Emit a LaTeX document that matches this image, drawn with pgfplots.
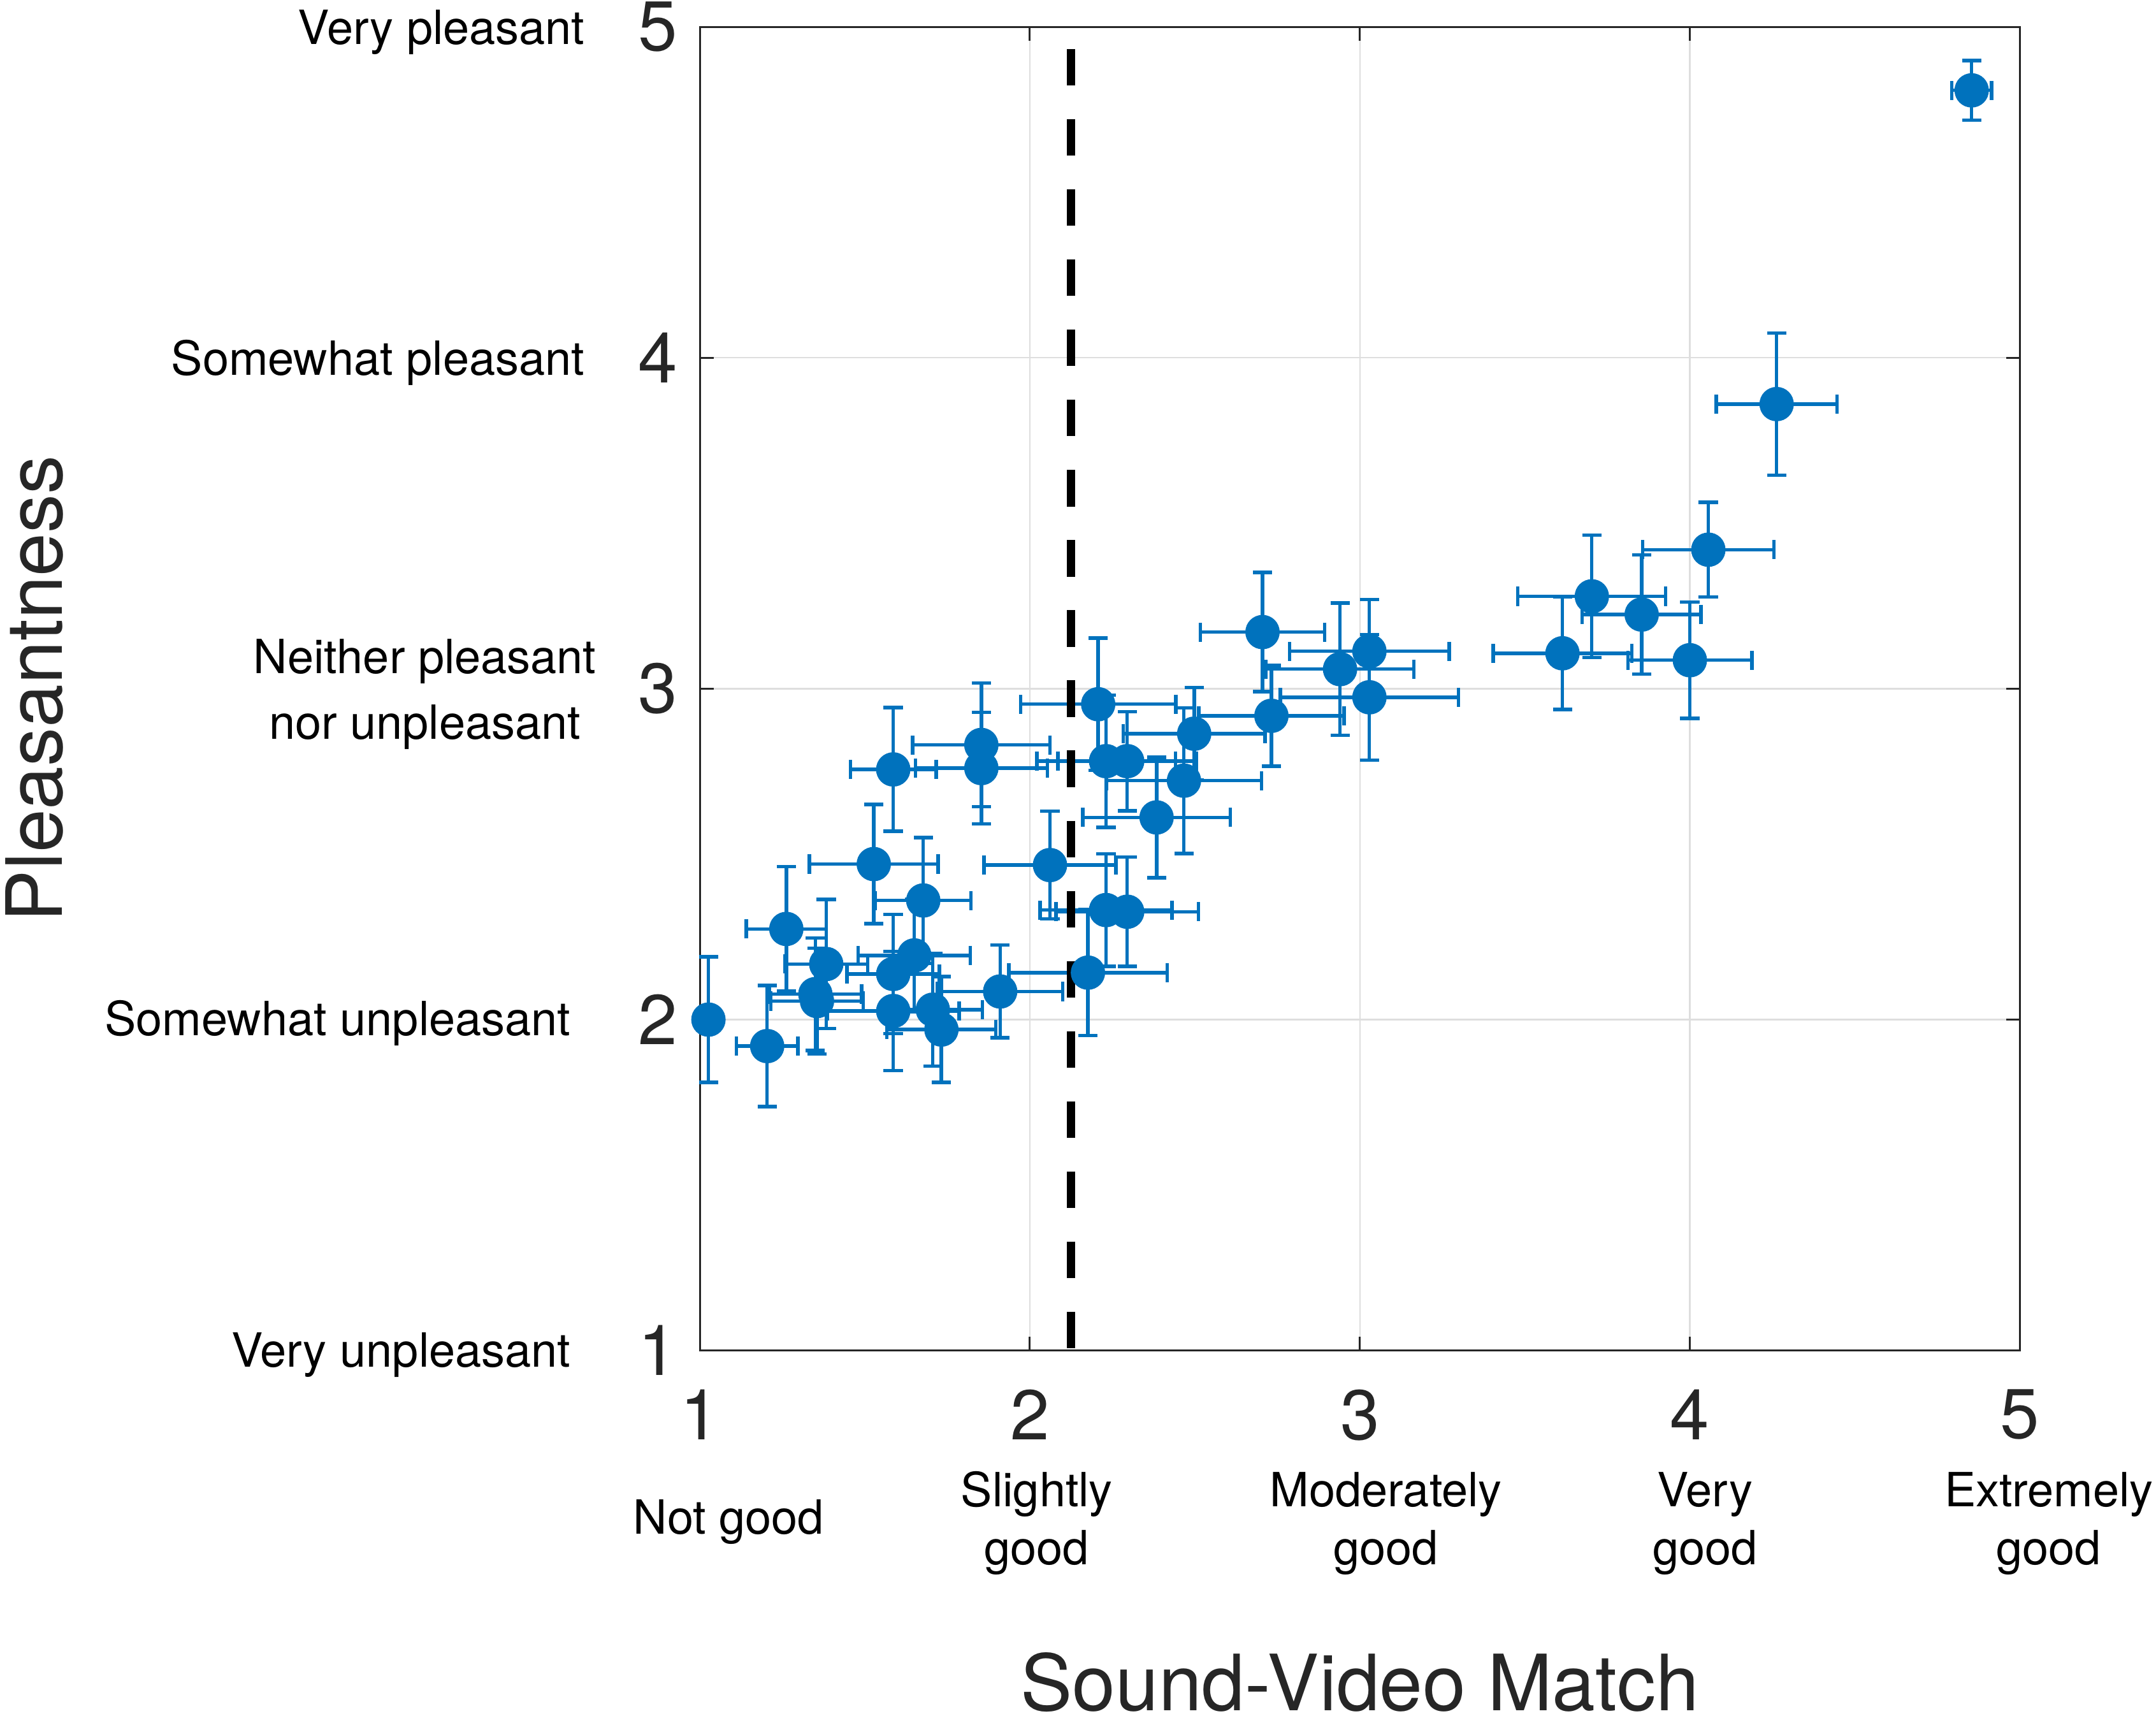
\documentclass[border=0pt]{standalone}
\usepackage{fontspec}
\setmainfont{TeX Gyre Heros}
\usepackage{pgfplots}
\usepackage{pgfplotstable}
\pgfplotsset{compat=1.18}
\definecolor{mblue}{HTML}{0072BD}
\definecolor{axgray}{HTML}{262626}
\definecolor{gridgray}{HTML}{DEDEDE}

\pgfplotstableread{
x      y      ex     ey
1.026  2.000  0.000  0.190
1.204  1.920  0.093  0.183
1.262  2.274  0.121  0.188
1.350  2.077  0.140  0.170
1.355  2.056  0.140  0.160
1.383  2.168  0.125  0.195
1.527  2.470  0.195  0.180
1.586  2.756  0.130  0.187
1.586  2.138  0.140  0.180
1.586  2.026  0.200  0.180
1.650  2.194  0.170  0.170
1.677  2.360  0.145  0.190
1.706  2.030  0.150  0.170
1.732  1.970  0.165  0.160
1.853  2.830  0.208  0.187
1.853  2.760  0.200  0.168
1.910  2.085  0.190  0.140
2.061  2.467  0.200  0.163
2.176  2.142  0.240  0.190
2.207  2.953  0.235  0.200
2.231  2.781  0.210  0.200
2.231  2.331  0.200  0.170
2.295  2.781  0.210  0.150
2.295  2.326  0.216  0.165
2.384  2.611  0.224  0.182
2.467  2.722  0.235  0.220
2.498  2.864  0.215  0.140
2.705  3.171  0.188  0.180
2.732  2.918  0.220  0.152
2.940  3.059  0.224  0.200
3.029  3.113  0.242  0.157
3.029  2.974  0.270  0.190
3.614  3.107  0.210  0.170
3.703  3.279  0.224  0.185
3.854  3.224  0.180  0.180
4.000  3.086  0.188  0.176
4.056  3.420  0.199  0.143
4.263  3.860  0.183  0.215
4.854  4.808  0.060  0.090
}\pts

\begin{document}
\begin{tikzpicture}
\useasboundingbox (-203.6pt,-108.3pt) rectangle (423.6pt,392.8pt);
\begin{axis}[
  at={(0,0)}, anchor=south west,
  width=384pt, height=385pt, scale only axis,
  xmin=1, xmax=5, ymin=1, ymax=5,
  xtick={1,2,3,4,5}, ytick={1,2,3,4,5},
  xticklabels={1,2,3,4,5}, yticklabels={1,2,3,4,5},
  grid=major,
  major grid style={color=gridgray, line width=0.45pt},
  axis line style={color=axgray, line width=0.55pt},
  tick style={color=axgray, line width=0.55pt},
  tick align=inside, major tick length=4pt,
  ticklabel style={font=\fontsize{20.5}{20.5}\selectfont, text=axgray, inner sep=0pt},
  xticklabel style={anchor=north, yshift=-11.2pt},
  yticklabel style={anchor=east, xshift=-6.3pt},
  clip=false,
]
\addplot[only marks, mark=*, color=mblue, mark size=4.8pt,
  mark options={fill=mblue, draw=mblue},
  error bars/.cd,
    x dir=both, x explicit, y dir=both, y explicit,
    error bar style={line width=1pt, color=mblue},
    error mark options={rotate=90, color=mblue, mark size=2.8pt, line width=1pt},
] table[x=x, y=y, x error=ex, y error=ey] {\pts};

\addplot[black, line width=2.4pt, dash pattern=on 10.6pt off 9.8pt, dash phase=13.9pt]
  coordinates {(2.125,5) (2.125,1)};

% y category labels
\begin{scope}[every node/.style={font=\fontsize{13.7}{13.7}\selectfont, text=black, inner sep=0pt}]
\node[anchor=base east] at (axis cs:1,5) [xshift=-33.3pt, yshift=-5pt] {Very pleasant};
\node[anchor=base east] at (axis cs:1,4) [xshift=-33.4pt, yshift=-5pt] {Somewhat pleasant};
\node[anchor=base] at (axis cs:1,3) [xshift=-80pt, yshift=4.4pt] {Neither pleasant};
\node[anchor=base] at (axis cs:1,3) [xshift=-80pt, yshift=-14.6pt] {nor unpleasant};
\node[anchor=base east] at (axis cs:1,2) [xshift=-37.4pt, yshift=-4.6pt] {Somewhat unpleasant};
\node[anchor=base east] at (axis cs:1,1) [xshift=-37.4pt, yshift=-4.8pt] {Very unpleasant};
% x category labels
\node[anchor=base] at (axis cs:1,1) [xshift=8.4pt, yshift=-53.4pt] {Not good};
\node[anchor=base] at (axis cs:2,1) [xshift=2pt, yshift=-45.3pt] {Slightly};
\node[anchor=base] at (axis cs:2,1) [xshift=2pt, yshift=-62.2pt] {good};
\node[anchor=base] at (axis cs:3,1) [xshift=7.6pt, yshift=-45.3pt] {Moderately};
\node[anchor=base] at (axis cs:3,1) [xshift=7.6pt, yshift=-62.2pt] {good};
\node[anchor=base] at (axis cs:4,1) [xshift=4.4pt, yshift=-45.3pt] {Very};
\node[anchor=base] at (axis cs:4,1) [xshift=4.4pt, yshift=-62.2pt] {good};
\node[anchor=base] at (axis cs:5,1) [xshift=8.4pt, yshift=-45.3pt] {Extremely};
\node[anchor=base] at (axis cs:5,1) [xshift=8.4pt, yshift=-62.2pt] {good};
\end{scope}
% axis titles
\node[anchor=base, inner sep=0pt, text=axgray, font=\fontsize{22.6}{22.6}\selectfont]
  at ([yshift=-104.8pt]axis cs:3,1) {Sound-Video Match};
\node[anchor=base, rotate=90, inner sep=0pt, text=axgray, font=\fontsize{22.6}{22.6}\selectfont]
  at ([xshift=-185.6pt]axis cs:1,3) {Pleasantness};
\end{axis}
\end{tikzpicture}
\end{document}
